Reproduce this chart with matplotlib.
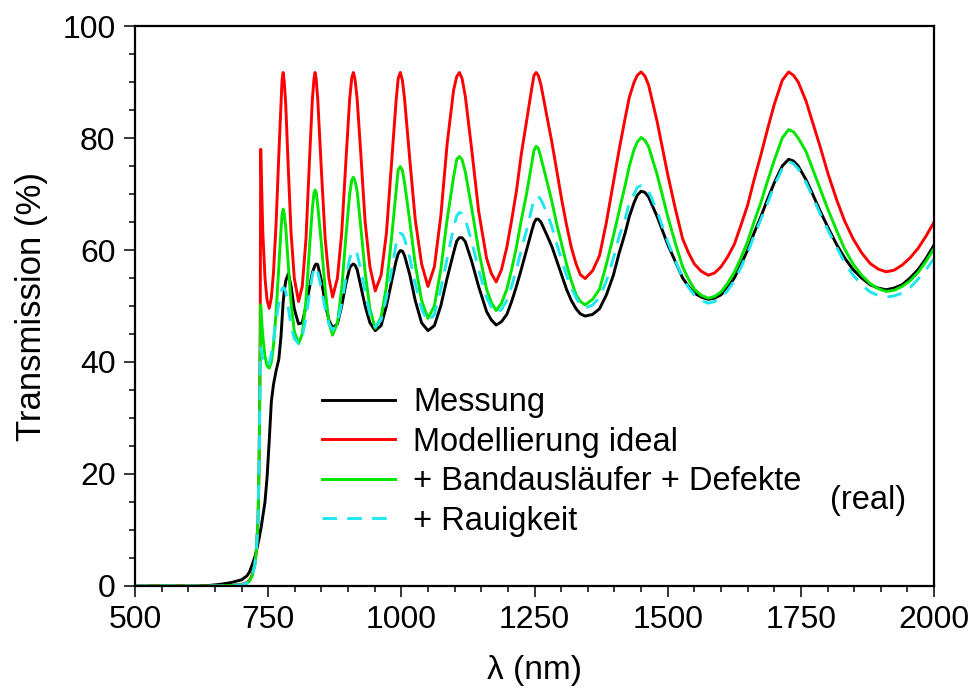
import matplotlib
matplotlib.use("Agg")
import matplotlib.pyplot as plt
from matplotlib.ticker import MultipleLocator

plt.rcParams['font.family'] = ['Liberation Sans', 'DejaVu Sans']

# Wellenlängen-Stützstellen (nm), gemeinsam für alle Kurven (eine Zeile je Abschnitt)
wavelength = [
    500, 600, 640, 660, 680, 700, 710, 715, 720, 725, 728, 731, 733, 735, 736, 737,
    740, 744, 748, 752, 756, 760, 765, 770, 774, 776, 778, 780, 783, 788, 793, 799,
    807, 814, 821, 828, 833, 836, 838, 840, 843, 850, 857, 864, 871, 880, 888, 896, 903,
    907, 910, 913, 917, 924, 932, 941, 951, 962, 972, 982, 990, 994, 998, 1002, 1006, 1016, 1026, 1038,
    1050, 1062, 1074, 1086, 1098, 1104, 1109, 1114, 1120, 1132, 1145, 1160, 1169, 1178, 1188, 1198,
    1207, 1216, 1225, 1235, 1245,
    1249, 1253, 1257, 1262, 1274, 1283, 1292, 1301, 1310, 1319, 1328, 1336, 1345, 1359, 1372, 1385,
    1398, 1409, 1420, 1428, 1437, 1443,
    1450, 1457, 1464, 1480, 1490, 1500, 1514, 1528, 1539, 1550, 1563, 1576, 1588, 1600, 1612, 1625,
    1637, 1650, 1662, 1675, 1688, 1700, 1715,
    1727, 1736, 1745, 1760, 1772, 1786, 1801, 1817, 1832, 1848, 1864, 1880, 1895, 1910, 1925, 1940,
    1955, 1970, 1985, 2000,
]

# Transmission (%)
messung = [
    0, 0, 0.1, 0.3, 0.6, 1.1, 1.8, 2.5, 3.8, 5.2, 6.3, 7.6, 8.5, 9.5, 10, 10.6,
    12.5, 15, 19.5, 26, 33, 36, 38.5, 40.5, 44.5, 47.5, 50.5, 52.5, 54.5, 55.8, 53.5, 49.5,
    46.8, 47, 50, 53.5, 56, 56.8, 57.3, 57.5, 57.4, 54.5, 50.5, 47.5, 46.1, 46.8, 50, 54, 56.8,
    57.3, 57.5, 57.3, 56.5, 53.5, 50, 47, 45.6, 46.5, 50, 54.5, 58, 59.3, 59.9, 59.8, 59, 55.5, 51, 47,
    45.6, 46.5, 50, 55, 59.5, 61.6, 62.2, 62.2, 61.5, 58, 53.5, 49, 47.5, 46.6, 47.2, 48.5,
    50.8, 53.5, 56.5, 60, 63.5,
    64.8, 65.5, 65.5, 65, 62.5, 60.5, 58, 55.5, 53, 51, 49.5, 48.6, 48.2, 48.5, 49.5, 52,
    55.5, 59.5, 63, 66, 68.5, 69.8,
    70.5, 70.3, 69.5, 66, 63.5, 61, 58, 55, 53.5, 52.3, 51.6, 51.2, 51.4, 52, 53.2, 55,
    57.3, 60, 63, 66, 69.2, 72, 75,
    76.2, 75.9, 75, 72.5, 70, 67, 64, 61, 58.6, 56.5, 55, 53.8, 53.2, 52.9, 53.2, 53.8,
    55, 56.5, 58.5, 60.9,
]

ideal = [
    0, 0, 0, 0, 0.1, 0.3, 0.6, 1.0, 2.0, 4.0, 6.5, 12, 22, 45, 78, 74,
    63, 55, 51, 49.6, 51.5, 56, 65, 77, 86, 90.3, 91.7, 90.3, 86, 74, 63, 55,
    50.8, 53.5, 62, 77, 87, 90.6, 91.7, 90.6, 87, 74, 62, 55, 51.6, 55, 63, 76, 87,
    90.8, 91.7, 90.5, 87, 77, 65, 57, 52.7, 55.5, 63, 76, 86.5, 90.6, 91.7, 90.3, 87, 76, 65.5, 57.5,
    53.5, 57, 66, 79, 88.5, 91.0, 91.7, 90.6, 87.5, 78, 67, 58.5, 55.8, 54.3, 56.5, 60.5,
    65.3, 70.5, 77, 83, 89,
    91.2, 91.7, 91.2, 89.5, 83.5, 79, 74, 69, 64.5, 60.5, 57.5, 55.6, 54.9, 56.3, 59, 65,
    72, 78, 83.5, 87.3, 90, 91.2,
    91.8, 91.1, 89.5, 83, 78.3, 73.5, 67.5, 62, 59.5, 57.5, 56.2, 55.5, 55.9, 57, 58.7, 61,
    64.3, 68, 72.5, 77, 81.8, 86, 90.3,
    91.8, 91.2, 90, 86.5, 82.8, 78.5, 73.6, 69, 65.2, 62, 59.5, 57.6, 56.6, 56.1, 56.4, 57.3,
    58.6, 60.3, 62.5, 65,
]

bandauslaeufer = [
    0, 0, 0, 0, 0.1, 0.2, 0.5, 0.9, 1.8, 3.8, 6.5, 12, 22, 42, 50.2, 48.5,
    44.5, 41, 39.3, 38.9, 40, 43, 49, 57, 63.5, 66.2, 67.3, 66.6, 64, 57, 50.5, 45.5,
    43.3, 45, 51, 61, 67.5, 70.2, 70.7, 70.4, 68, 61, 53, 47, 44.8, 47, 53, 62.5, 70,
    72.5, 73, 72.3, 70.5, 64, 56, 49.5, 46, 48, 53.5, 62.5, 70.5, 74.3, 74.9, 74.2, 72, 65, 57.5, 51,
    47.8, 50, 56.5, 65.5, 73, 76.2, 76.7, 76.1, 74, 67.5, 60, 53, 50.6, 49.2, 50.5, 53,
    56.5, 60.5, 65.3, 70, 75.5,
    77.8, 78.5, 78.2, 76.5, 72, 68.5, 64.5, 61, 57.5, 54.5, 52, 50.8, 50.2, 51.2, 53, 57.5,
    62.5, 67, 71.5, 75, 78, 79.3,
    80.1, 79.6, 78.5, 73.5, 69.8, 66, 61.3, 57, 54.8, 53, 51.9, 51.4, 51.7, 52.5, 54, 56,
    58.5, 61.5, 65, 68.5, 72.5, 76, 80,
    81.5, 81.1, 80, 77.5, 74.5, 71, 67.2, 63.5, 60.2, 57.5, 55.5, 54, 53.1, 52.6, 52.8, 53.5,
    54.5, 56, 58, 60.3,
]

rauigkeit = [
    0, 0, 0, 0, 0.1, 0.2, 0.5, 0.9, 1.8, 3.8, 6.5, 12, 22, 40, 42.5, 42,
    40.5, 39.5, 39.2, 39.8, 41.5, 44, 47.5, 50.5, 52.5, 53.0, 53.3, 53.2, 52.5, 49.5, 46.5, 44.2,
    43.3, 44.5, 48, 52.5, 55.5, 56.7, 57, 56.9, 56.2, 53, 49.5, 46.8, 45.7, 47, 50.5, 55, 58.5,
    59.6, 60, 59.9, 59.3, 56.5, 52.5, 48.5, 46.3, 47.5, 51.5, 56.5, 61, 62.5, 63, 62.8, 62, 58.5, 54, 49.5,
    47.2, 48.5, 53, 58.5, 64, 66.1, 66.7, 66.5, 65.5, 61.5, 56.5, 51.5, 49.8, 48.7, 49.4, 51,
    53.5, 56.5, 60, 63.5, 67.5,
    68.9, 69.5, 69.6, 69, 66.5, 64, 61, 58.2, 55.5, 53.2, 51.5, 50.2, 49.6, 50.2, 51.5, 54.5,
    58.5, 62.5, 65.5, 68.5, 70, 71.2,
    71.5, 71.4, 70.5, 67, 64.2, 61.5, 58.2, 55, 53.3, 52, 51, 50.5, 50.8, 51.5, 52.7, 54.5,
    56.8, 59.5, 62.5, 65.5, 68.5, 71.5, 74.5,
    75.8, 75.4, 74.5, 72, 69.5, 66.5, 63.5, 60.5, 57.8, 55.5, 53.8, 52.5, 51.9, 51.6, 51.8, 52.3,
    53.3, 54.8, 56.5, 58.5,
]

for series in (messung, ideal, bandauslaeufer, rauigkeit):
    assert len(series) == len(wavelength), len(series)

fig = plt.figure(figsize=(9.74, 6.92), dpi=100)
ax = fig.add_axes([0.1386, 0.1532, 0.8204, 0.8092])

lw = 2.1
ax.plot(wavelength, messung, color='black', lw=lw, label='Messung')
ax.plot(wavelength, ideal, color='#ff0000', lw=lw, label='Modellierung ideal')
ax.plot(wavelength, bandauslaeufer, color='#00e600', lw=lw, label='+ Bandausläufer + Defekte')
ax.plot(wavelength, rauigkeit, color='#1ee6f0', lw=lw, ls=(0, (5, 3.5)), label='+ Rauigkeit')

ax.set_xlim(500, 2000)
ax.set_ylim(0, 100)
ax.xaxis.set_major_locator(MultipleLocator(250))
ax.xaxis.set_minor_locator(MultipleLocator(50))
ax.yaxis.set_major_locator(MultipleLocator(20))
ax.yaxis.set_minor_locator(MultipleLocator(5))
ax.tick_params(which='both', direction='out', top=False, right=False,
               labelsize=23, width=1.1, pad=6)
ax.tick_params(which='major', length=8)
ax.tick_params(which='minor', length=4)
for sp in ax.spines.values():
    sp.set_linewidth(1.6)

ax.set_xlabel('λ (nm)', fontsize=24, labelpad=14)
ax.set_ylabel('Transmission (%)', fontsize=25, labelpad=10)

leg = ax.legend(loc='upper left', bbox_to_anchor=(0.234, 0.355), frameon=False,
                fontsize=23.5, handlelength=2.24, handletextpad=0.55,
                labelspacing=0.26, borderpad=0, borderaxespad=0)
ax.text(1876, 15.2, '(real)', fontsize=23.5, ha='center', va='center')

fig.savefig('out.png', dpi=100)
